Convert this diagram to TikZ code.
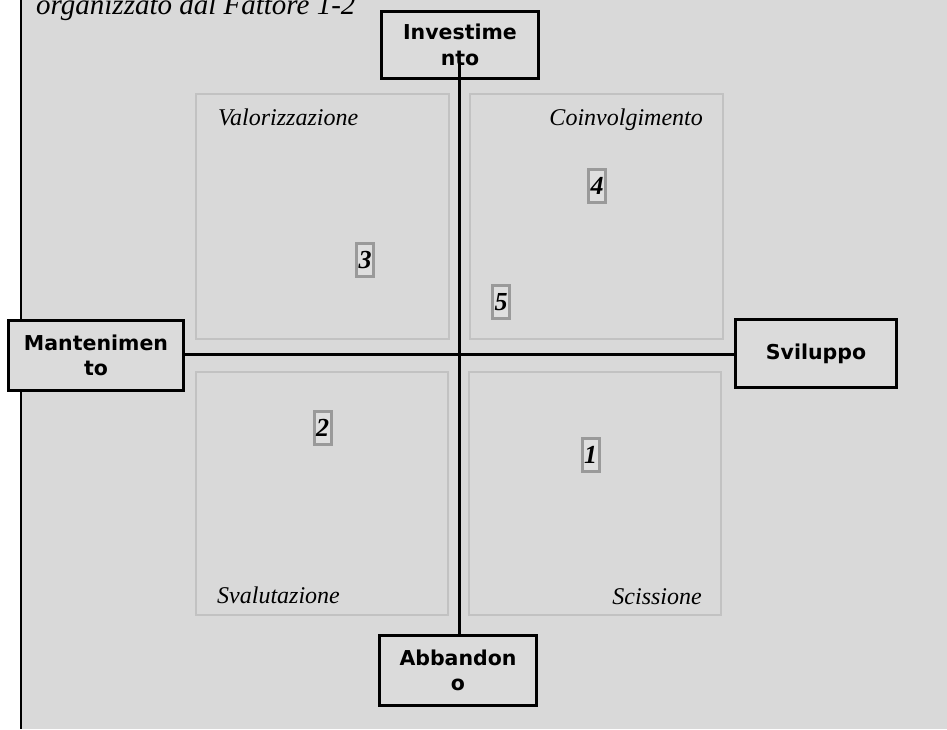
\documentclass[tikz,border=0pt]{standalone}
\usepackage{fontspec}
\setmainfont{Liberation Serif}
\newfontfamily\axisfont{DejaVu Sans}
\begin{document}
\begin{tikzpicture}[x=1pt,y=-1pt,
  axisbox/.style={draw=black,line width=3pt,fill=panelfill,inner sep=0pt,
    align=center,font=\axisfont\bfseries\fontsize{20.5}{25.5}\selectfont},
  quadbox/.style={draw=quadline,line width=1.5pt},
  quadlabel/.style={inner sep=0pt,font=\itshape\fontsize{24}{28}\selectfont},
  marker/.style={draw=markline,line width=3pt,fill=markfill,inner sep=0pt,
    minimum width=17pt,minimum height=33pt,
    font=\bfseries\itshape\fontsize{26}{30}\selectfont},
  axisline/.style={line width=3pt,draw=black}]
\definecolor{bg}{HTML}{D9D9D9}
\definecolor{panelfill}{HTML}{DBDBDB}
\definecolor{quadline}{HTML}{C2C2C2}
\definecolor{markline}{HTML}{9A9A9A}
\definecolor{markfill}{HTML}{DFDFDF}

% page: white margin on the left, grey panel with a black rule
\useasboundingbox (0,0) rectangle (947,729);
\fill[white] (0,0) rectangle (20,729);
\fill[bg] (20,0) rectangle (947,729);
\draw[line width=2pt] (21,0) -- (21,729);

% title
\node[anchor=base west,inner sep=0pt,font=\itshape\fontsize{29}{33}\selectfont]
  (title) at (36,14) {organizzato dal Fattore 1-2};

% quadrants
\draw[quadbox] (196,94) rectangle (449,339);
\draw[quadbox] (470,94) rectangle (723,339);
\draw[quadbox] (196,372) rectangle (448,615);
\draw[quadbox] (469,372) rectangle (721,615);

\node[quadlabel,anchor=base west] (valor) at (218,125.5) {Valorizzazione};
\node[quadlabel,anchor=base east] (coinv) at (703,125.5) {Coinvolgimento};
\node[quadlabel,anchor=base west] (svalut) at (217,603.5) {Svalutazione};
\node[quadlabel,anchor=base east] (sciss) at (702,604) {Scissione};

% axis end boxes
\node[axisbox,minimum width=157pt,minimum height=67pt] (inv) at (460,45) {Investime\\nto};
\node[axisbox,minimum width=175pt,minimum height=70pt] (man) at (96,355.5) {Mantenimen\\to};
\node[axisbox,minimum width=161pt,minimum height=68pt] (svi) at (816,353.5) {Sviluppo};
\node[axisbox,minimum width=157pt,minimum height=70pt] (abb) at (458,670.5) {Abbandon\\o};

% axes
\coordinate (o) at (459,354);
\coordinate (vtop) at (459,63);
\draw[axisline] (man.east |- o) -- (svi.west |- o);
\draw[axisline] (vtop) -- (abb.north -| o);

% numbered markers
\node[marker] (m1) at (590.5,455) {1};
\node[marker] (m2) at (322.5,428) {2};
\node[marker] (m3) at (365,260) {3};
\node[marker] (m4) at (597,185.5) {4};
\node[marker] (m5) at (501,302) {5};
\end{tikzpicture}
\end{document}
